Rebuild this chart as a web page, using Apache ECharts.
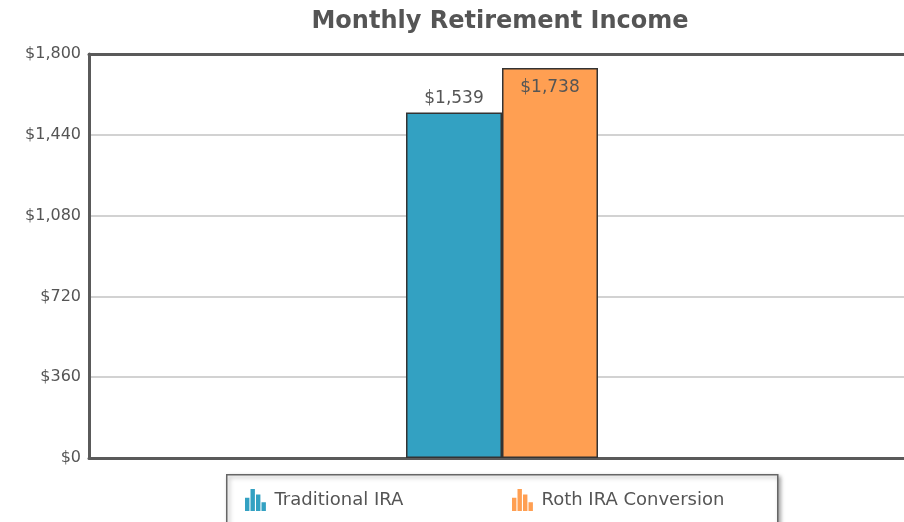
<!DOCTYPE html>
<html>
<head>
<meta charset="utf-8">
<script src="https://cdn.jsdelivr.net/npm/echarts@6/dist/echarts.min.js"></script>
<style>
  html, body { margin: 0; padding: 0; background: #fff; overflow: hidden; }
  #chart { width: 916px; height: 522px; }
</style>
</head>
<body>
<div id="chart"></div>
<script>
// data
const categories = ["Monthly Income"];
const seriesNames = ["Traditional IRA", "Roth IRA Conversion"];
const traditional = [1539];
const roth = [1738];
const yTicks = [0, 360, 720, 1080, 1440, 1800];

const colors = ["#33a1c2", "#ff9f52"];
const textColor = "#555";
const frame = { color: "#5a5a5a", width: 3 };
const barIcon = "path://M0,8h4v12h-4z M5,0h4v20h-4z M10,5h4v15h-4z M15,12h4v8h-4z";

function money(v) {
  return "$" + v.toLocaleString("en-US");
}

const chart = echarts.init(document.getElementById("chart"));

chart.setOption({
  animation: false,
  textStyle: { fontFamily: "DejaVu Sans", color: textColor },
  title: {
    text: "Monthly Retirement Income",
    left: 495,
    textAlign: "center",
    top: 5,
    textStyle: { fontSize: 24, fontWeight: "bold", color: textColor, fontFamily: "DejaVu Sans" }
  },
  grid: { left: 89, top: 54, bottom: 64, right: 1 },
  xAxis: [
    {
      type: "category",
      data: categories,
      position: "bottom",
      axisLine: { lineStyle: frame },
      axisTick: { show: false },
      axisLabel: { show: false }
    },
    {
      type: "category",
      data: categories,
      position: "top",
      axisLine: { lineStyle: frame },
      axisTick: { show: false },
      axisLabel: { show: false }
    }
  ],
  yAxis: {
    type: "value",
    min: yTicks[0],
    max: yTicks[yTicks.length - 1],
    interval: yTicks[1] - yTicks[0],
    axisLine: { show: true, lineStyle: frame },
    axisTick: { show: false },
    splitLine: { lineStyle: { color: "#d2d2d2", width: 2 } },
    axisLabel: {
      formatter: v => money(v),
      fontSize: 16,
      color: textColor,
      margin: 8
    }
  },
  legend: [
    {
      data: [{ name: seriesNames[0], icon: barIcon }],
      left: 240, top: 484,
      itemWidth: 22, itemHeight: 22,
      itemStyle: { borderWidth: 0 },
      textStyle: { fontSize: 18, color: textColor, padding: [0, 0, 0, 3] }
    },
    {
      data: [{ name: seriesNames[1], icon: barIcon }],
      left: 507, top: 484,
      itemWidth: 22, itemHeight: 22,
      itemStyle: { borderWidth: 0 },
      textStyle: { fontSize: 18, color: textColor, padding: [0, 0, 0, 3] }
    }
  ],
  graphic: [{
    type: "rect",
    left: 226, top: 474,
    shape: { width: 551, height: 52 },
    style: {
      fill: "#fff", stroke: "#666", lineWidth: 1.5,
      shadowBlur: 4, shadowOffsetX: 2, shadowOffsetY: 2, shadowColor: "rgba(0,0,0,0.35)"
    },
    z: -1
  }],
  series: [
    {
      name: seriesNames[0],
      type: "bar",
      data: traditional,
      barWidth: 96,
      barGap: "0%",
      itemStyle: { color: colors[0], borderColor: "#333", borderWidth: 1.5 },
      label: {
        show: true, position: "top", distance: 6,
        formatter: p => money(p.value),
        fontSize: 17, color: textColor
      }
    },
    {
      name: seriesNames[1],
      type: "bar",
      data: roth,
      barWidth: 96,
      barGap: "0%",
      itemStyle: { color: colors[1], borderColor: "#333", borderWidth: 1.5 },
      label: {
        show: true, position: "insideTop", distance: 11,
        formatter: p => money(p.value),
        fontSize: 17, color: textColor
      }
    }
  ]
});
</script>
</body>
</html>
